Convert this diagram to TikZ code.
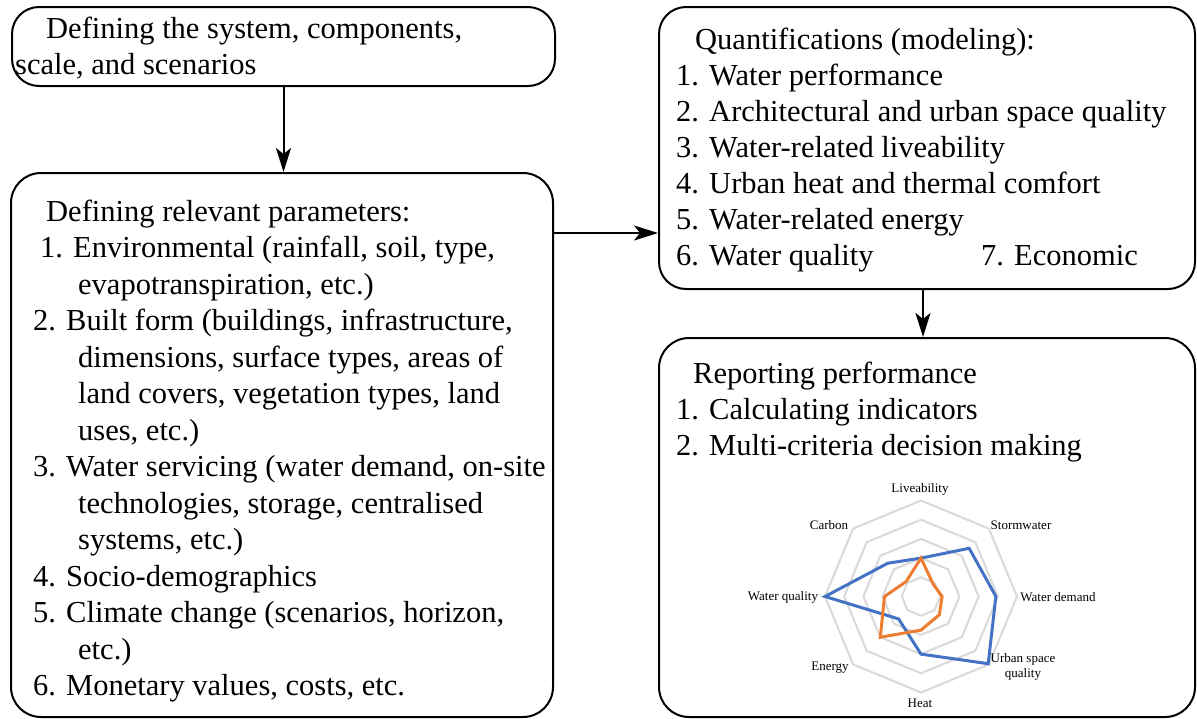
\documentclass[tikz,border=0pt]{standalone}
\usepackage{fontspec}
\setmainfont{Liberation Serif}
\usetikzlibrary{arrows.meta,calc}
\definecolor{ringgray}{HTML}{D9D9D9}
\definecolor{chartblue}{HTML}{4472C4}
\definecolor{chartorange}{HTML}{ED7D31}
\begin{document}
\begin{tikzpicture}[x=1pt,y=-1pt,
  box/.style={draw=black, line width=2pt, rounded corners=27pt, inner sep=0pt},
  arr/.style={-{Stealth[length=24pt,width=15pt,inset=6pt]}, line width=2pt},
  txt/.style={anchor=base west, inner sep=0pt, font=\fontsize{30.5}{36}\selectfont},
  lab/.style={font=\fontsize{13}{15}\selectfont, inner sep=0pt, align=center},
  ring/.style={draw=ringgray, line width=2pt},
  blueline/.style={draw=chartblue, line width=3pt, line join=miter},
  orangeline/.style={draw=chartorange, line width=3pt, line join=miter}]
\useasboundingbox (0,0) rectangle (1197,718);
% boxes
\node[box, minimum width=543pt, minimum height=79pt] (b1) at (283.5,46.5) {};
\node[box, rounded corners=30pt, minimum width=542pt, minimum height=544pt] (b2) at (282,445) {};
\node[box, minimum width=536pt, minimum height=282pt] (b3) at (927,148) {};
\node[box, rounded corners=30pt, minimum width=536pt, minimum height=379pt] (b4) at (927,527.5) {};
% connectors
\coordinate (a2) at (0,233);
\coordinate (a3) at (923,0);
\draw[arr] (b1.south) -- (b1.south |- b2.north);
\draw[arr] (b2.east |- a2) -- (b3.west |- a2);
\draw[arr] (a3 |- b3.south) -- (a3 |- b4.north);
% box 1 text
\node[txt] (t1a) at (46,38) {Defining the system, components,};
\node[txt] (t1b) at (15,74) {scale, and scenarios};
% box 2 text
\foreach \xx/\tt [count=\i from 0] in {
  46/{Defining relevant parameters:},
  40/{1. Environmental (rainfall, soil, type,},
  78/{evapotranspiration, etc.)},
  33/{2. Built form (buildings, infrastructure,},
  78/{dimensions, surface types, areas of},
  78/{land covers, vegetation types, land},
  78/{uses, etc.)},
  33/{3. Water servicing (water demand, on-site},
  78/{technologies, storage, centralised},
  78/{systems, etc.)},
  33/{4. Socio-demographics},
  33/{5. Climate change (scenarios, horizon,},
  78/{etc.)},
  33/{6. Monetary values, costs, etc.}}
  \node[txt] (p\i) at (\xx,221+36.5*\i) {\tt};
% box 3 text
\foreach \xx/\tt [count=\i from 0] in {
  695/{Quantifications (modeling):},
  676/{1. Water performance},
  676/{2. Architectural and urban space quality},
  676/{3. Water-related liveability},
  676/{4. Urban heat and thermal comfort},
  676/{5. Water-related energy},
  676/{6. Water quality}}
  \node[txt] (q\i) at (\xx,49+36*\i) {\tt};
\node[txt] (q7) at (981,265) {7. Economic};
% box 4 text
\node[txt] (r0) at (693,383) {Reporting performance};
\node[txt] (r1) at (676,419) {1. Calculating indicators};
\node[txt] (r2) at (676,455) {2. Multi-criteria decision making};
% radar chart
\begin{scope}[shift={(921,596.5)}, x=19.2pt, y=19.2pt]
  \foreach \r in {1,...,5}
    \draw[ring] (90:\r) -- (45:\r) -- (0:\r) -- (-45:\r) -- (-90:\r) -- (-135:\r) -- (180:\r) -- (135:\r) -- cycle;
  \draw[blueline] (90:2) -- (45:3.55) -- (0:3.9) -- (-45:4.95) -- (-90:3) -- (-135:1.65) -- (180:5) -- (135:2.45) -- cycle;
  \draw[orangeline] (90:2) -- (45:0.9) -- (0:1.1) -- (-45:1.35) -- (-90:1.75) -- (-135:3) -- (180:1.9) -- (135:1.1) -- cycle;
\end{scope}
\node[lab] (cl1) at (920,489) {Liveability};
\node[lab] (cl2) at (1021,525) {Stormwater};
\node[lab] (cl3) at (1058,597) {Water demand};
\node[lab] (cl4) at (1023,667) {Urban space\\quality};
\node[lab] (cl5) at (920,703) {Heat};
\node[lab] (cl6) at (830,668) {Energy};
\node[lab] (cl7) at (783,597) {Water quality};
\node[lab] (cl8) at (829,525) {Carbon};
\end{tikzpicture}
\end{document}
